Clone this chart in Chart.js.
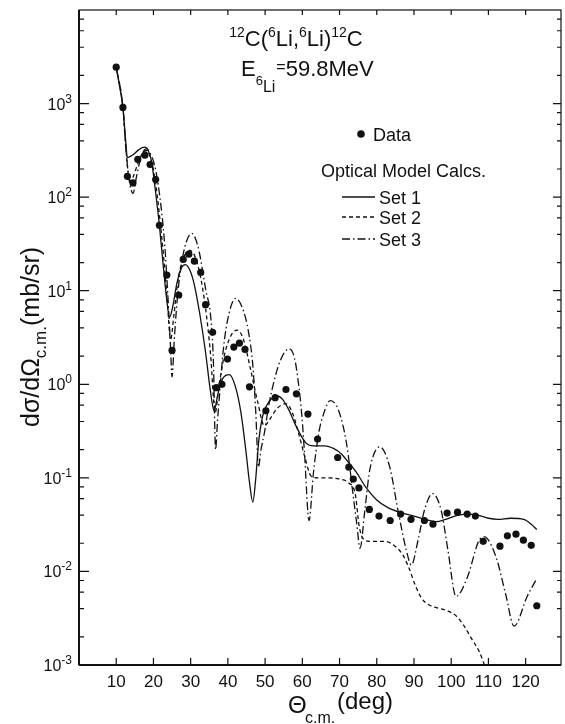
<!DOCTYPE html>
<html>
<head>
<meta charset="utf-8">
<script src="https://cdn.jsdelivr.net/npm/chart.js@4.4.1/dist/chart.umd.min.js"></script>
<style>
html, body { margin: 0; padding: 0; background: #fff; }
#wrap { width: 565px; height: 724px; }
</style>
</head>
<body>
<div id="wrap"><canvas id="cs_chart"></canvas></div>
<script>
// 12C(6Li,6Li)12C, values (theta in deg, sigma in mb/sr)
const data_theta = [10.0, 11.8, 13.0, 14.5, 15.8, 17.7, 19.1, 20.6, 21.6, 23.6, 25.0, 26.8, 28.0, 29.5, 31.0, 32.7,
    34.0, 35.9, 36.9, 38.4, 39.9, 41.6, 43.1, 44.6, 45.8, 50.2, 52.7, 55.6, 58.4, 61.5, 64.1, 69.5, 72.5, 73.7, 75.2,
    78.0, 80.6, 83.6, 86.4, 89.2, 92.8, 95.1, 98.9, 101.7, 104.3, 106.5, 108.6, 113.1, 115.1, 117.4, 119.4, 121.5, 123.0]
const data_sigma = [2450, 910, 167, 142, 253, 281, 223, 154, 50, 14.7, 2.3, 9.0, 21.6, 24.6, 20.7, 15.7,
    7.1, 3.6, 0.92, 1.0, 1.86, 2.5, 2.75, 2.36, 0.94, 0.52, 0.72, 0.88, 0.79, 0.48, 0.26, 0.165, 0.13, 0.097, 0.078,
    0.046, 0.039, 0.035, 0.041, 0.036, 0.035, 0.032, 0.042, 0.043, 0.041, 0.039, 0.021, 0.0186, 0.024, 0.025, 0.0216, 0.019, 0.0043]

const set1_theta = [10.0, 11.0, 11.8, 12.5, 13.0, 14.0, 15.0, 16.0, 17.0, 17.7, 18.5, 19.5, 20.5, 21.6, 22.5, 23.5,
    24.3, 25.2, 26.3, 27.5, 28.6, 29.8, 31.0, 32.5, 34.0, 35.3, 36.3, 37.3, 38.6, 40.4, 42.0, 43.5, 44.8, 45.8, 46.7,
    47.5, 48.3, 49.3, 50.5, 52.0, 53.3, 54.8, 56.5, 58.0, 59.5, 61.0, 63.0, 66.0, 68.5, 70.5, 72.5, 74.5, 77.0, 80.0,
    83.0, 86.0, 90.0, 93.0, 96.0, 98.5, 101.0, 104.0, 107.0, 110.0, 112.5, 116.0, 119.5, 121.5, 123.0]
const set1_sigma = [2450, 1450, 910, 420, 265, 275, 295, 320, 338, 342, 320, 240, 120, 50, 21, 8.5,
    5.2, 6.8, 12, 17.5, 19, 16.5, 11.5, 5.5, 2.2, 0.85, 0.52, 0.78, 1.15, 1.27, 0.95, 0.5, 0.2, 0.09, 0.055,
    0.1, 0.25, 0.45, 0.6, 0.72, 0.75, 0.68, 0.52, 0.38, 0.29, 0.235, 0.22, 0.22, 0.205, 0.18, 0.145, 0.115, 0.08, 0.058,
    0.048, 0.043, 0.039, 0.036, 0.034, 0.036, 0.039, 0.041, 0.040, 0.037, 0.036, 0.037, 0.036, 0.032, 0.028]

const set2_theta = [10.0, 11.8, 12.6, 13.3, 14.0, 14.8, 16.0, 17.2, 18.2, 19.3, 20.5, 21.6, 22.7, 23.7, 24.6, 25.5,
    26.6, 28.0, 29.6, 31.0, 32.5, 34.0, 35.3, 36.6, 37.6, 39.0, 40.8, 42.5, 44.2, 46.0, 48.0, 49.8, 51.2, 53.2, 55.5,
    57.3, 59.0, 60.8, 62.3, 64.0, 67.0, 70.0, 72.5, 74.2, 75.3, 76.5, 78.0, 82.0, 85.0, 87.0, 88.6, 90.3, 92.0, 94.0,
    96.0, 99.0, 101.5, 103.5, 105.5, 107.5, 109.6]
const set2_sigma = [2450, 910, 330, 170, 150, 175, 240, 300, 315, 255, 150, 65, 24, 8, 3.0, 5.5,
    13, 22, 27, 24, 15, 6.5, 2.2, 0.5, 0.95, 2.0, 3.3, 3.8, 3.0, 1.5, 0.65, 0.36, 0.42, 0.55, 0.62,
    0.5, 0.3, 0.16, 0.105, 0.1, 0.1, 0.097, 0.088, 0.068, 0.03, 0.022, 0.021, 0.021, 0.0185, 0.015, 0.011, 0.0072, 0.0052, 0.0044,
    0.0041, 0.0038, 0.0033, 0.0026, 0.0019, 0.0014, 0.00085]

const set3_theta = [10.0, 11.8, 12.6, 13.5, 14.5, 15.5, 16.8, 18.1, 19.2, 20.3, 21.6, 23.0, 23.8, 24.5, 25.0, 25.6,
    26.5, 27.6, 28.8, 30.3, 31.3, 32.3, 34.1, 35.4, 36.1, 36.7, 37.2, 37.7, 38.8, 40.3, 42.1, 44.3, 45.5, 46.7, 47.5,
    48.2, 48.9, 49.8, 51.0, 52.2, 54.1, 56.5, 57.9, 59.0, 59.9, 60.6, 61.8, 63.0, 64.4, 65.7, 67.5, 69.7, 71.9, 73.7,
    74.6, 75.5, 76.8, 78.1, 80.8, 83.5, 85.7, 87.9, 89.3, 91.1, 92.8, 95.0, 97.3, 99.1, 101.3, 104.4, 107.5, 108.9,
    112.0, 114.6, 116.9, 120.4, 123.0]
const set3_sigma = [2450, 910, 330, 150, 110, 170, 280, 330, 290, 220, 110, 32, 10, 3, 1.2, 3,
    9, 20, 33, 41, 36, 26, 10, 5.2, 1.8, 0.2, 0.4, 0.72, 2.4, 5.7, 8.3, 5.9, 3.7, 1.6, 0.5,
    0.13, 0.2, 0.3, 0.6, 1.0, 1.8, 2.4, 1.9, 1.0, 0.45, 0.18, 0.035, 0.114, 0.30, 0.48, 0.67, 0.53, 0.23, 0.063,
    0.033, 0.0177, 0.045, 0.12, 0.215, 0.13, 0.045, 0.0171, 0.0117, 0.0216, 0.045, 0.068, 0.045, 0.0171, 0.0054, 0.0088, 0.0216, 0.0234,
    0.0144, 0.0058, 0.0026, 0.0054, 0.0084]

const x_ticks = [10, 20, 30, 40, 50, 60, 70, 80, 90, 100, 110, 120]
const y_decades = [-3, -2, -1, 0, 1, 2, 3, 4]
const y_minor = [2, 4, 6, 8]
const y_tick_exps = ['-3', '-2', '-1', '0', '1', '2', '3']

const FONT = "'Liberation Sans', Arial, sans-serif"
const INK = '#111'

const pairs = (xs, ys) => xs.map((x, i) => ({ x: x, y: ys[i] }))

function draw_runs(ctx, x, y, runs) {
    runs.forEach(r => {
        ctx.font = r.size + 'px ' + FONT
        ctx.fillText(r.text, x, y + (r.dy || 0))
        x += ctx.measureText(r.text).width + (r.gap || 0)
    })
    return x
}

function runs_width(ctx, runs) {
    let w = 0
    runs.forEach(r => {
        ctx.font = r.size + 'px ' + FONT
        w += ctx.measureText(r.text).width + (r.gap || 0)
    })
    return w
}

// frame with inward ticks on all four sides, plus y labels 10^n
const frame_plugin = {
    id: 'frame',
    afterDraw(chart) {
        const { ctx, chartArea: a, scales: { x, y } } = chart
        ctx.save()
        ctx.strokeStyle = INK
        ctx.fillStyle = INK
        ctx.lineWidth = 1.2
        ctx.strokeRect(a.left, a.top, a.right - a.left, a.bottom - a.top)
        ctx.lineWidth = 2
        ctx.beginPath()
        ctx.moveTo(a.left, a.bottom)
        ctx.lineTo(a.right, a.bottom)
        ctx.moveTo(a.left, a.top)
        ctx.lineTo(a.left, a.bottom)
        ctx.stroke()

        ctx.lineWidth = 1.2
        ctx.beginPath()
        y.ticks.forEach(t => {
            const py = y.getPixelForValue(t.value)
            if (py <= a.top + 1 || py >= a.bottom - 1) return
            const major = Math.abs(Math.log10(t.value) - Math.round(Math.log10(t.value))) < 1e-6
            ctx.moveTo(a.left, py)
            ctx.lineTo(a.left + (major ? 10 : 5), py)
            ctx.moveTo(a.right, py)
            ctx.lineTo(a.right - (major ? 8 : 4), py)
        })
        x.ticks.forEach(t => {
            const px = x.getPixelForValue(t.value)
            ctx.moveTo(px, a.bottom)
            ctx.lineTo(px, a.bottom - 7)
            ctx.moveTo(px, a.top)
            ctx.lineTo(px, a.top + 5)
        })
        ctx.stroke()

        // y tick labels with raised exponent
        ctx.textAlign = 'left'
        ctx.textBaseline = 'alphabetic'
        y_tick_exps.forEach(e => {
            const py = y.getPixelForValue(Math.pow(10, Number(e)))
            const runs = [{ text: '10', size: 16 }, { text: e, size: 12, dy: -7 }]
            const w = runs_width(ctx, runs)
            draw_runs(ctx, a.left - 7 - w, py + 6, runs)
        })
        ctx.restore()
    }
}

// titles, legend and axis titles with sub/superscripts
const text_plugin = {
    id: 'texts',
    afterDraw(chart) {
        const { ctx } = chart
        ctx.save()
        ctx.fillStyle = INK
        ctx.strokeStyle = INK
        ctx.textAlign = 'left'
        ctx.textBaseline = 'alphabetic'

        const sup = t => ({ text: t, size: 14, dy: -9 })
        const big = t => ({ text: t, size: 22 })
        const line1 = [sup('12'), big('C('), sup('6'), big('Li,'), sup('6'), big('Li)'), sup('12'), big('C')]
        draw_runs(ctx, 296 - runs_width(ctx, line1) / 2, 46, line1)

        const line2 = [big('E'), { text: '6', size: 13, dy: 9 }, { text: 'Li', size: 16, dy: 16, gap: 1 },
            { text: '=', size: 16, dy: -4 }, big('59.8MeV')]
        draw_runs(ctx, 241, 76, line2)

        // legend
        ctx.beginPath()
        ctx.arc(361, 134, 3.8, 0, Math.PI * 2)
        ctx.fill()
        draw_runs(ctx, 373, 141, [{ text: 'Data', size: 18 }])
        draw_runs(ctx, 321, 177, [{ text: 'Optical Model Calcs.', size: 18 }])
        const sets = [['Set 1', [], 197], ['Set 2', [4, 3], 217], ['Set 3', [8, 3, 1.5, 3], 239]]
        sets.forEach(s => {
            ctx.lineWidth = 1.3
            ctx.setLineDash(s[1])
            ctx.beginPath()
            ctx.moveTo(342, s[2])
            ctx.lineTo(375, s[2])
            ctx.stroke()
            ctx.setLineDash([])
            draw_runs(ctx, 379, s[2] + 7, [{ text: s[0], size: 18 }])
        })

        // x axis title
        draw_runs(ctx, 288, 713, [{ text: 'Θ', size: 24 }])
        draw_runs(ctx, 305, 723, [{ text: 'c.m.', size: 16 }])
        draw_runs(ctx, 337, 709, [{ text: '(deg)', size: 24 }])

        // y axis title, rotated
        ctx.translate(39, 427)
        ctx.rotate(-Math.PI / 2)
        draw_runs(ctx, 0, 0, [{ text: 'dσ/dΩ', size: 25 }, { text: 'c.m.', size: 17, dy: 7 }, { text: '(mb/sr)', size: 25 }])
        ctx.restore()
    }
}

const curve = (label, xs, ys, dash) => ({
    label: label,
    data: pairs(xs, ys),
    showLine: true,
    borderColor: INK,
    borderWidth: 1.3,
    borderDash: dash,
    pointRadius: 0,
    cubicInterpolationMode: 'monotone'
})

new Chart(document.querySelector('#cs_chart'), {
    type: 'scatter',
    data: {
        datasets: [
            {
                label: 'Data',
                data: pairs(data_theta, data_sigma),
                showLine: false,
                pointRadius: 3.6,
                backgroundColor: INK,
                borderWidth: 0
            },
            curve('Set 1', set1_theta, set1_sigma, []),
            curve('Set 2', set2_theta, set2_sigma, [4, 3]),
            curve('Set 3', set3_theta, set3_sigma, [8, 3, 1.5, 3])
        ]
    },
    options: {
        animation: false,
        responsive: true,
        maintainAspectRatio: false,
        layout: { padding: { top: 10, right: 1, left: 0, bottom: 0 } },
        plugins: {
            legend: false,
            tooltip: { enabled: false }
        },
        scales: {
            x: {
                type: 'linear',
                min: 0,
                max: 129.5,
                afterBuildTicks: s => { s.ticks = x_ticks.map(v => ({ value: v })) },
                afterFit: s => { s.height = 59 },
                grid: { display: false, drawTicks: false },
                border: { display: false },
                ticks: {
                    autoSkip: false,
                    maxRotation: 0,
                    padding: 7,
                    color: INK,
                    font: { family: FONT, size: 17 },
                    callback: value => String(value)
                }
            },
            y: {
                type: 'logarithmic',
                min: 1e-3,
                max: 1e4,
                afterBuildTicks: s => {
                    const t = []
                    y_decades.forEach(d => {
                        t.push({ value: Math.pow(10, d) })
                        if (d < 4) y_minor.forEach(m => t.push({ value: m * Math.pow(10, d) }))
                    })
                    s.ticks = t
                },
                afterFit: s => { s.width = 79 },
                grid: { display: false, drawTicks: false },
                border: { display: false },
                ticks: { display: false }
            }
        }
    },
    plugins: [frame_plugin, text_plugin]
})
</script>
</body>
</html>
